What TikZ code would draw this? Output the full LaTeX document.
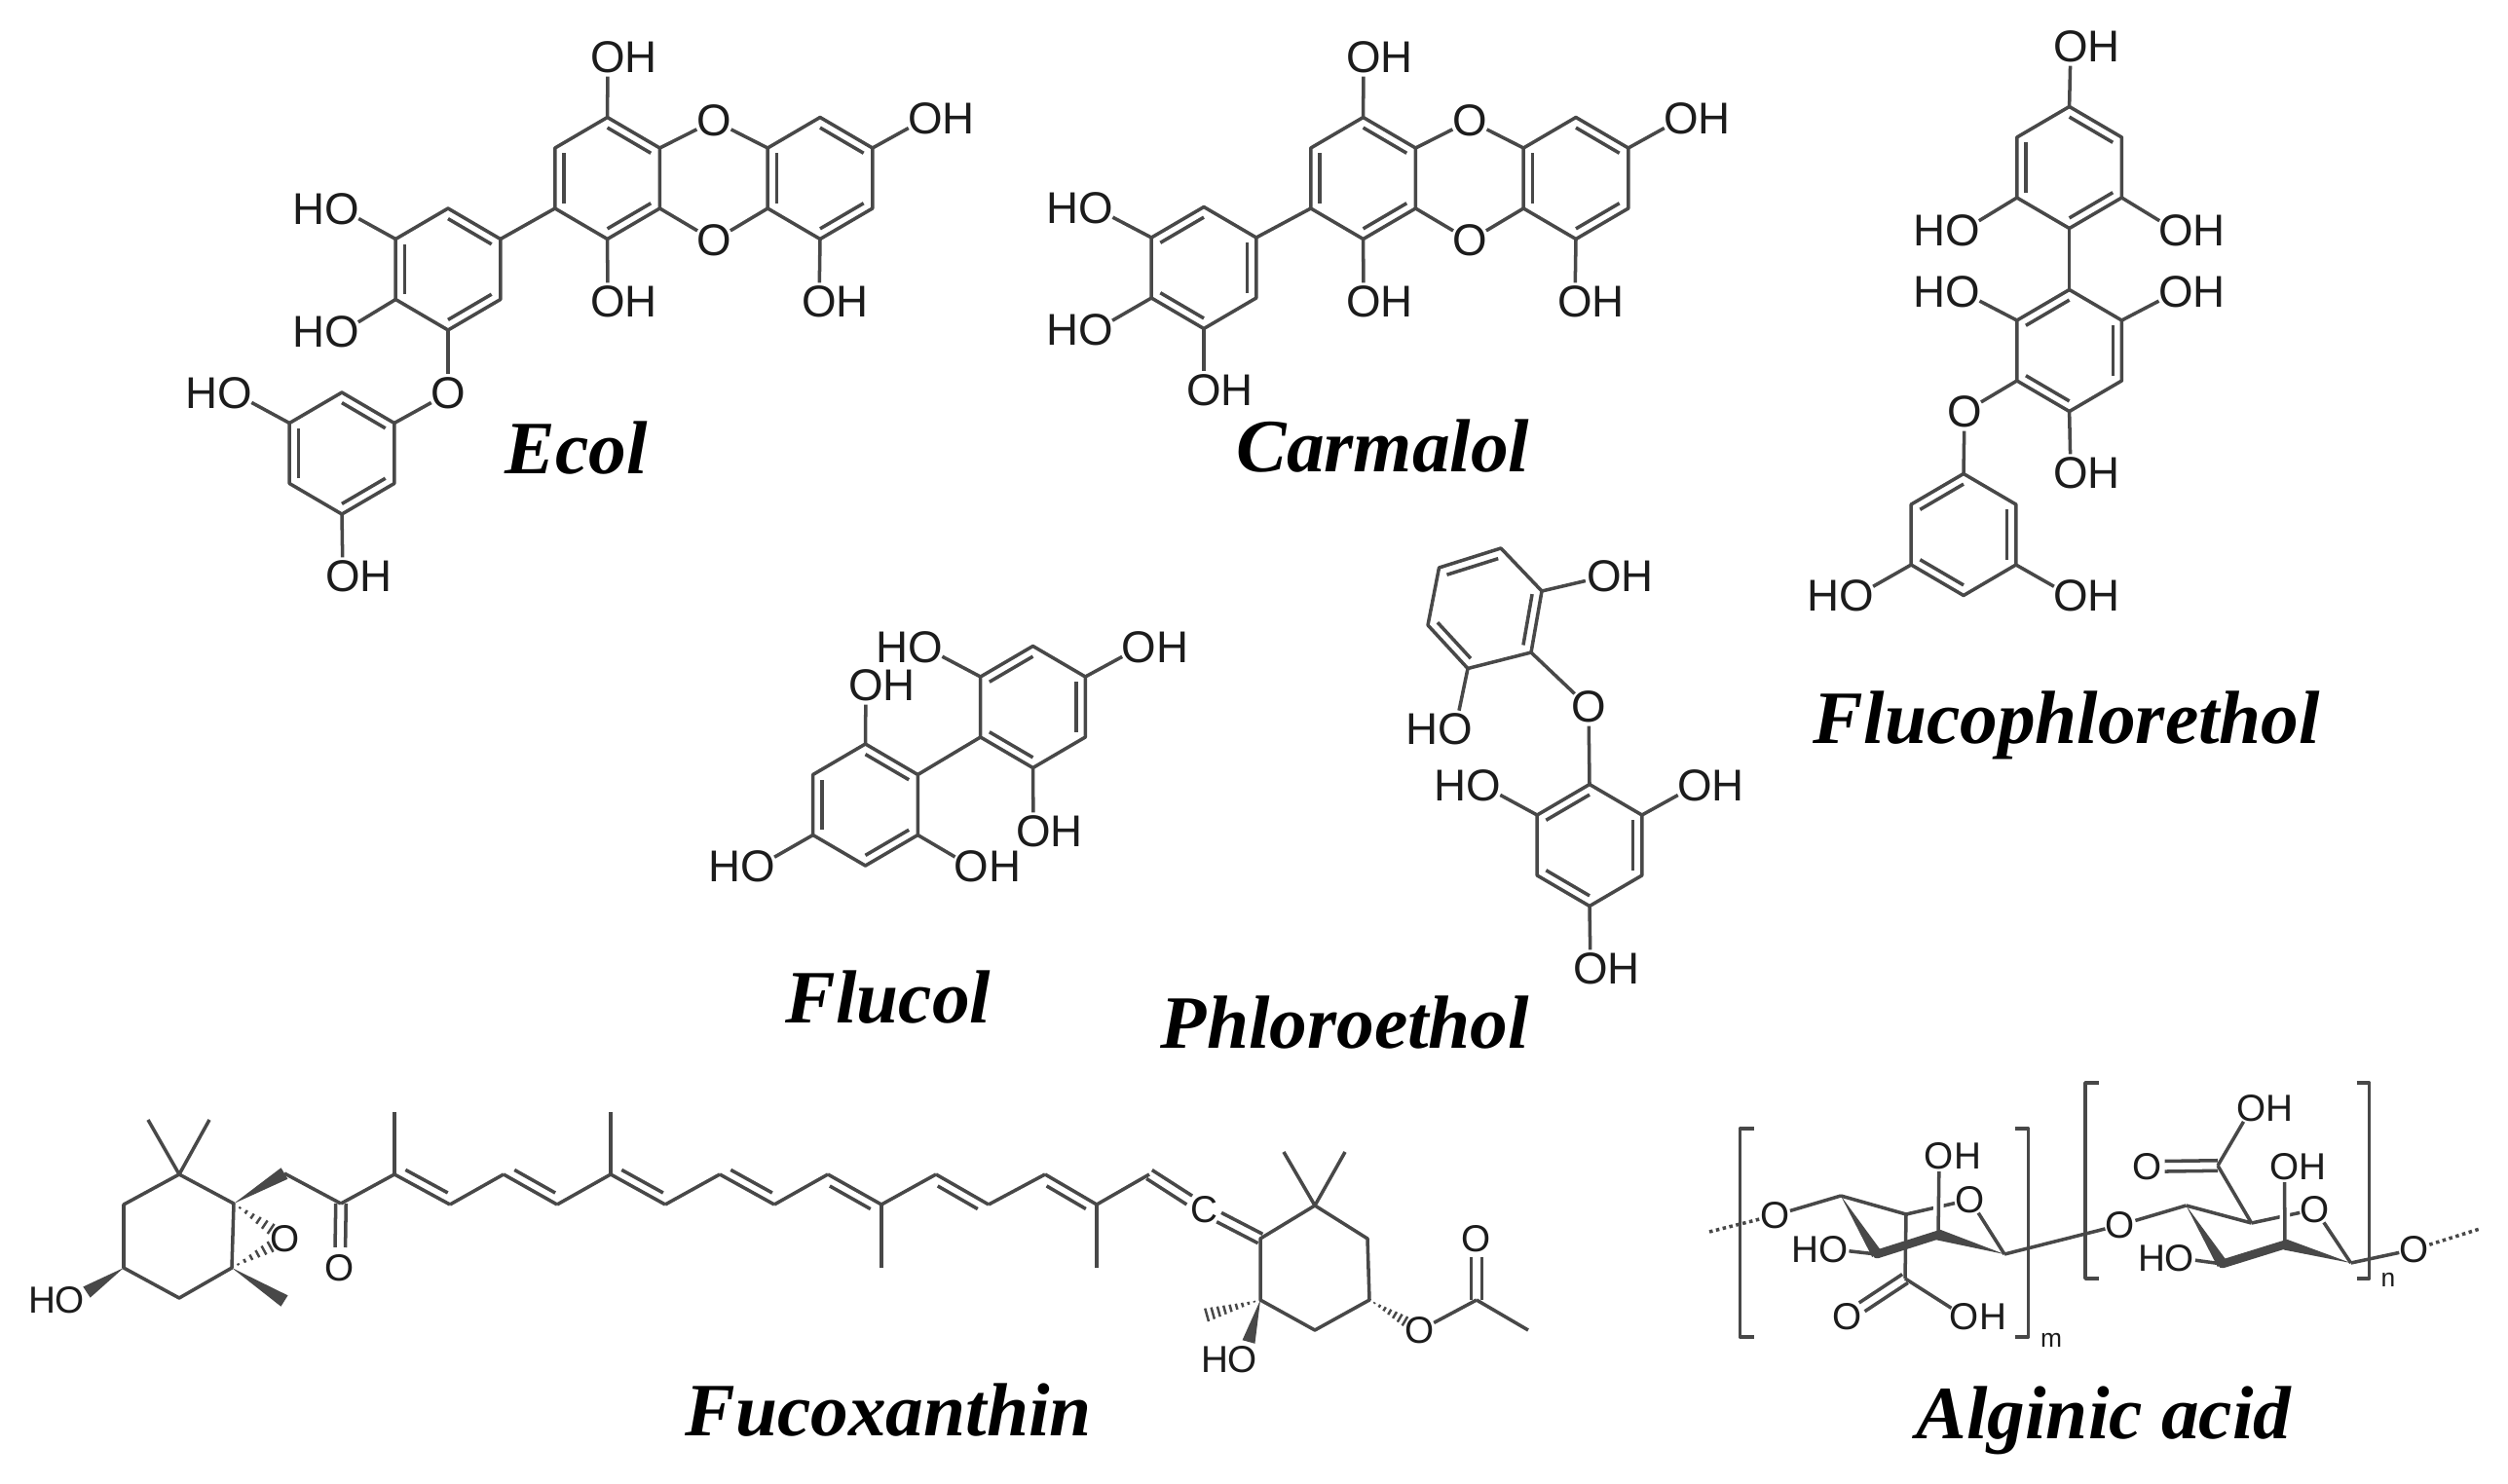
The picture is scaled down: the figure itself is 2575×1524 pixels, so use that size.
\documentclass[tikz,border=0pt]{standalone}
\usepackage{fontspec}
\usepackage{xcolor}
\usetikzlibrary{calc}
\newfontfamily\atomfont{Liberation Sans}
\newfontfamily\namefont{Liberation Serif}
\newcommand{\OH}{O\rlap{H}}
\newcommand{\HO}{\llap{H}O}
\newcommand{\innerbond}[3]{\draw[bond] ($(#1)!.17!(#3)$) -- ($(#2)!.17!(#3)$);}
\newcommand{\dblbond}[2]{\draw[bond] (#1) -- (#2);
  \draw[bond] ($(#1)!.12!(#2)!2.7pt!90:(#2)$) -- ($(#2)!.12!(#1)!2.7pt!-90:(#1)$);}
\newcommand{\symbond}[4]{%
  \draw[bond,shorten <=#3,shorten >=#4] ($(#1)!1.5pt!90:(#2)$) -- ($(#2)!1.5pt!-90:(#1)$);
  \draw[bond,shorten <=#3,shorten >=#4] ($(#1)!1.5pt!-90:(#2)$) -- ($(#2)!1.5pt!90:(#1)$);}
\newcommand{\wedgebond}[3]{\fill[bondgray] (#1) -- ($(#2)!#3!90:(#1)$) -- ($(#2)!#3!-90:(#1)$) -- cycle;}
\newcommand{\hashbond}[4]{\foreach \pos in {#4}
  {\draw[hashline] ($(#1)!\pos!(#2)!{\pos*#3}!90:(#2)$) -- ($(#1)!\pos!(#2)!{\pos*#3}!-90:(#2)$);}}
\newcommand{\hexring}[4]{%
  \coordinate (#1) at (#2,#3);
  \foreach \k/\dx/\dy in {1/0/-62.5,2/53.8/-31,3/53.8/31,4/0/62.5,5/-53.8/31,6/-53.8/-31}
    {\coordinate (#1\k) at (#2+\dx,#3+\dy);}
  \draw[bond] (#11) -- (#12) -- (#13) -- (#14) -- (#15) -- (#16) -- cycle;
  \foreach \k in {#4}
  {\pgfmathtruncatemacro{\knext}{mod(\k,6)+1}
   \innerbond{#1\k}{#1\knext}{#1}}}
\newcommand{\dibenzo}[2]{%
  \hexring{#1a}{623.6+#2}{183}{1,3,5}
  \hexring{#1b}{842+#2}{183}{1,3,5}
  \foreach \nm/\xx/\yy/\txt in {#1p/733/124/O,#1q/733/247/O,#1r/624/59/\OH,#1s/950/122/\OH,#1t/624/310/\OH,#1u/841/310/\OH}
  {\node[atom] (\nm) at (\xx+#2,\yy) {\txt};}
  \foreach \from/\to in {#1a2/#1p,#1a3/#1q,#1b6/#1p,#1b5/#1q,#1a1/#1r,#1a4/#1t,#1b2/#1s,#1b4/#1u}
  {\draw[bond] (\from) -- (\to);}}
\begin{document}
\begin{tikzpicture}[x=0.01cm,y=-0.01cm,
  bond/.style={draw=bondgray,line width=1pt,line join=round},
  hashline/.style={draw=bondgray,line width=0.7pt},
  boldbond/.style={draw=bondgray,line width=2.5pt,line cap=round},
  atom/.style={circle,inner sep=-1pt,text=atomblack,font=\atomfont\fontsize{13}{13}\selectfont},
  atomsm/.style={circle,inner sep=-1pt,text=atomblack,font=\atomfont\fontsize{11}{11}\selectfont},
  subscr/.style={inner sep=0pt,text=atomblack,font=\atomfont\fontsize{7.5}{8}\selectfont},
  molname/.style={anchor=base,inner sep=0pt,font=\namefont\bfseries\itshape\fontsize{22}{22}\selectfont}]
\definecolor{bondgray}{HTML}{484848}
\definecolor{atomblack}{HTML}{1C1C1C}
\path[use as bounding box,fill=white] (0,0) rectangle (2575,1524);

\dibenzo{e}{0}
\hexring{ec}{460}{276.5}{1,3,5}
\hexring{ed}{351}{465.5}{1,3,5}
\foreach \nm/\xx/\yy/\txt in {eh1/351/215/\HO,eh2/351/341/\HO,eo/460/404/O,eh3/241/404/\HO,eh4/352/592/\OH}
{\node[atom] (\nm) at (\xx,\yy) {\txt};}
\foreach \from/\to in {ec2/ea5,ec6/eh1,ec5/eh2,ec4/eo,eo/ed2,ed6/eh3,ed4/eh4}
{\draw[bond] (\from) -- (\to);}
\node[molname] (ecol) at (592,486) {Ecol};

\dibenzo{c}{776}
\hexring{cc}{1236}{275}{2,4,6}
\foreach \nm/\xx/\yy/\txt in {ch1/1125/214/\HO,ch2/1125/339/\HO,ch3/1236/401/\OH}
{\node[atom] (\nm) at (\xx,\yy) {\txt};}
\foreach \from/\to in {cc2/ca5,cc6/ch1,cc5/ch2,cc4/ch3}
{\draw[bond] (\from) -- (\to);}
\node[molname] (carmalol) at (1420,484) {Carmalol};

\hexring{pa}{2124.6}{172}{1,3,5}
\hexring{pb}{2124.6}{360}{2,4,6}
\hexring{pc}{2016}{549}{2,4,6}
\foreach \nm/\xx/\yy/\txt in {ph1/2126/48/\OH,ph2/2015/237/\HO,ph3/2234/237/\OH,ph4/2015/300/\HO,ph5/2234/300/\OH,ph6/2126/486/\OH,po/2017/423/O,ph7/1906/612/\HO,ph8/2126/612/\OH}
{\node[atom] (\nm) at (\xx,\yy) {\txt};}
\foreach \from/\to in {pa4/pb1,pa1/ph1,pa5/ph2,pa3/ph3,pb6/ph4,pb2/ph5,pb4/ph6,pb5/po,po/pc1,pc5/ph7,pc3/ph8}
{\draw[bond] (\from) -- (\to);}
\node[molname] (flucophlorethol) at (2122,763) {Flucophlorethol};

\hexring{fa}{1060.5}{726}{2,4,6}
\hexring{fb}{888.5}{826.5}{1,3,5}
\foreach \nm/\xx/\yy/\txt in {fh1/950/665/\HO,fh2/1169.5/665/\OH,fh3/889/704/\OH,fh4/1061/854/\OH,fh5/778/890/\HO,fh6/997.5/890/\OH}
{\node[atom] (\nm) at (\xx,\yy) {\txt};}
\foreach \from/\to in {fa5/fb2,fa6/fh1,fa2/fh2,fb1/fh3,fa4/fh4,fb5/fh5,fb3/fh6}
{\draw[bond] (\from) -- (\to);}
\node[molname] (flucol) at (912,1050) {Flucol};

\foreach \nm/\xx/\yy in {ha/1524.6/625.6,ha1/1541/563,ha2/1583/607,ha3/1572/670,ha4/1507/686.5,ha5/1466/642,ha6/1477.5/583}
{\coordinate (\nm) at (\xx,\yy);}
\draw[bond] (ha1) -- (ha2) -- (ha3) -- (ha4) -- (ha5) -- (ha6) -- cycle;
\innerbond{ha6}{ha1}{ha}
\innerbond{ha2}{ha3}{ha}
\innerbond{ha4}{ha5}{ha}
\hexring{ga}{1632}{868}{2,4,6}
\foreach \nm/\xx/\yy/\txt in {gh1/1647/592/\OH,go/1631/726/O,gh2/1494/749/\HO,gh3/1523/807/\HO,gh4/1740/807/\OH,gh5/1633/995/\OH}
{\node[atom] (\nm) at (\xx,\yy) {\txt};}
\foreach \from/\to in {ha2/gh1,ha3/go,ha4/gh2,go/ga1,ga6/gh3,ga2/gh4,ga4/gh5}
{\draw[bond] (\from) -- (\to);}
\node[molname] (phloroethol) at (1381,1076) {Phloroethol};

\foreach \nm/\xx/\yy in {z1/184/1206,z2/240/1236,z3/238/1302,z4/184/1333,z5/127/1302,z6/127/1237,m1/152/1150,m2/215/1150,k1/292/1205,k2/350/1236,k3/405/1206,m3/405/1142,r1/462/1237,r2/517/1206,r3/572/1237,r4/627/1206,m4/627/1142,r5/683/1237,r6/739/1206,r7/795/1237,r8/850/1206,r9/905/1237,m5/905/1302,r10/961/1206,r11/1015/1237,r12/1073/1206,r13/1126/1237,m6/1126/1302,r14/1180/1206,y1/1294/1272,y2/1350/1238,y3/1404/1272,y4/1406/1335,y5/1350/1366,y6/1294/1335,m7/1318/1183,m8/1381/1183,m9/1233/1352,w1/1282/1378,w2/89/1327,w3/292/1336,ac/1516/1335,m10/1569/1366}
{\coordinate (\nm) at (\xx,\yy);}
\foreach \nm/\xx/\yy/\txt in {zh1/72/1335/\HO,zo1/293/1272/O,zo2/349/1302/O,ala/1236/1242/C,zh2/1276/1396/\HO,zo3/1458/1366/O,zo4/1516/1272/O}
{\node[atomsm] (\nm) at (\xx,\yy) {\txt};}
\draw[bond] (z1) -- (z2) -- (z3) -- (z4) -- (z5) -- (z6) -- cycle;
\draw[bond] (y1) -- (y2) -- (y3) -- (y4) -- (y5) -- (y6) -- cycle;
\foreach \from/\to in {z1/m1,z1/m2,k1/k2,k2/k3,k3/m3,r1/r2,r3/r4,r4/m4,r5/r6,r7/r8,r9/m5,r9/r10,r11/r12,r13/m6,r13/r14,y2/m7,y2/m8,zo3/ac,ac/m10}
{\draw[bond] (\from) -- (\to);}
\foreach \from/\to in {k3/r1,r2/r3,r4/r5,r6/r7,r9/r8,r11/r10,r13/r12}
{\dblbond{\from}{\to}}
\symbond{k2}{zo2}{0pt}{6pt}
\symbond{r14}{ala}{0pt}{5pt}
\symbond{ala}{y1}{5pt}{0pt}
\symbond{ac}{zo4}{0pt}{5.5pt}
\wedgebond{z2}{k1}{1.9pt}
\wedgebond{z5}{w2}{1.9pt}
\wedgebond{y6}{w1}{1.9pt}
\wedgebond{z3}{w3}{1.9pt}
\hashbond{z2}{zo1}{2.4pt}{.12,.24,.36,.48,.6,.72}
\hashbond{z3}{zo1}{2.4pt}{.12,.24,.36,.48,.6,.72}
\hashbond{y6}{m9}{2.2pt}{.1,.2,.3,.4,.5,.6,.7,.8,.9}
\hashbond{y4}{zo3}{2.2pt}{.1,.2,.3,.4,.5,.6,.7}
\node[molname] (fucoxanthin) at (912,1474) {Fucoxanthin};

\foreach \nm/\xx/\yy in {a1/1890/1228,b1/1957/1247,s1/2058/1288,d1/1990/1268,e1/1927/1288,f1/1956/1313,a2/2244.5/1238,b2/2311.6/1256,s2/2413.6/1297,d2/2346/1278,e2/2281.6/1298,f2/2277/1197,t1/1755/1265,t2/2546/1262}
{\coordinate (\nm) at (\xx,\yy);}
\foreach \nm/\xx/\yy/\txt in {ol/1822.5/1248/O,o1/2022.6/1232/O,oh1/1991/1187/\OH,ho1/1882.5/1283/\HO,ox1/1897/1352/O,oa1/2017/1352/\OH,om/2177/1258/O,o2/2377/1242/O,oh2/2345.4/1198/\OH,ho2/2238/1292/\HO,ox2/2205/1198/O,oa2/2311.6/1138/\OH,orr/2479/1283/O}
{\node[atomsm] (\nm) at (\xx,\yy) {\txt};}
\foreach \from/\to in {ol/a1,a1/b1,b1/o1,o1/s1,b1/f1,f1/oa1,s1/om,om/a2,a2/b2,b2/o2,o2/s2,b2/f2,f2/oa2,e1/ho1,e2/ho2,s2/orr}
{\draw[bond] (\from) -- (\to);}
\foreach \from/\to in {d1/oh1,d2/oh2}
{\draw[bond,preaction={draw=white,line width=3pt}] (\from) -- (\to);}
\symbond{f1}{ox1}{0pt}{5pt}
\symbond{f2}{ox2}{0pt}{5pt}
\draw[bond,densely dotted] (t1) -- (ol);
\draw[bond,densely dotted] (orr) -- (t2);
\wedgebond{a1}{e1}{1.6pt}
\wedgebond{s1}{d1}{1.6pt}
\wedgebond{a2}{e2}{1.6pt}
\wedgebond{s2}{d2}{1.6pt}
\draw[boldbond] (e1) -- (d1);
\draw[boldbond] (e2) -- (d2);
\draw[bond] (1800.7,1159) -- (1786.5,1159) -- (1786.5,1373) -- (1800.7,1373);
\draw[bond] (2069,1159) -- (2082.6,1159) -- (2082.6,1373) -- (2069,1373);
\draw[bond] (2155,1112) -- (2141,1112) -- (2141,1313) -- (2155,1313);
\draw[bond] (2419.6,1112) -- (2432.6,1112) -- (2432.6,1313) -- (2419.6,1313);
\node[subscr] (mlabel) at (2106,1376) {m};
\node[subscr] (nlabel) at (2452,1314) {n};
\node[molname] (alginic) at (2160,1477) {Alginic acid};
\end{tikzpicture}
\end{document}
